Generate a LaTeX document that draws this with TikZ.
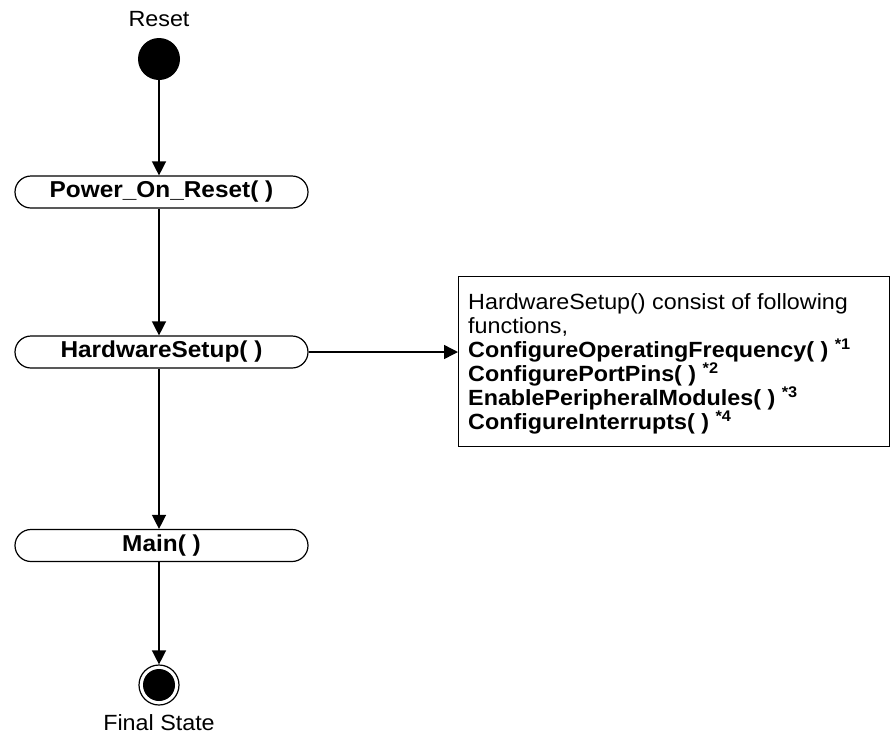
\documentclass[tikz,border=0pt]{standalone}
\usepackage{fontspec}
\setmainfont[FakeStretch=1.06]{Liberation Sans}
\usetikzlibrary{arrows.meta,shapes.misc,positioning}
\tikzset{
	flowarrow/.style={line width=1.4pt, -{Triangle[length=14pt,width=14pt]}},
	action/.style={draw, line width=1.2pt, rounded rectangle, minimum width=293pt, minimum height=32pt, inner sep=0pt, font=\fontsize{23}{24}\selectfont\bfseries},
	caption/.style={font=\fontsize{22}{24}\selectfont}
}
\begin{document}
\begin{tikzpicture}[x=1pt, y=1pt]
			%%%%% START %%%%%
			\useasboundingbox (0,0) rectangle (891,-742);
			
			\node[caption, anchor=base] (resettext) at (159,-26) {Reset};
			\node[circle, fill=black, minimum size=42pt, inner sep=0pt] (start) at (159,-59) {};
			
			\node[action] (por) at (161.5,-192) {Power\_On\_Reset( )};
			\node[action] (hw) at (161.5,-352) {HardwareSetup( )};
			\node[action] (mainfn) at (161.5,-545.5) {Main( )};
			
			\node[draw, circle, line width=1.2pt, minimum size=40pt, inner sep=0pt] (final) at (159,-685) {};
			\node[circle, fill=black, minimum size=32pt, inner sep=0pt] at (final) {};
			\node[caption, anchor=base] (finaltext) at (159,-730) {Final State};
			
			\node[draw, line width=1.2pt, anchor=north west, minimum width=431pt, minimum height=170pt, inner sep=0pt] (note) at (458,-276) {};
			\node[caption, anchor=north west, align=left, inner sep=0pt] (notetext) at (468,-293) {HardwareSetup() consist of following\\functions,\\
				\textbf{ConfigureOperatingFrequency( )} \textsuperscript{\bfseries *1}\\
				\textbf{ConfigurePortPins( )} \textsuperscript{\bfseries *2}\\
				\textbf{EnablePeripheralModules( )} \textsuperscript{\bfseries *3}\\
				\textbf{ConfigureInterrupts( )} \textsuperscript{\bfseries *4}};
			
			\draw[flowarrow] (start) -- (start |- por.north);
			\draw[flowarrow] (start |- por.south) -- (start |- hw.north);
			\draw[flowarrow] (start |- hw.south) -- (start |- mainfn.north);
			\draw[flowarrow] (start |- mainfn.south) -- (final);
			\draw[flowarrow] (hw.east) -- (hw.east -| note.west);
			%%%%% END %%%%%
\end{tikzpicture}
\end{document}
